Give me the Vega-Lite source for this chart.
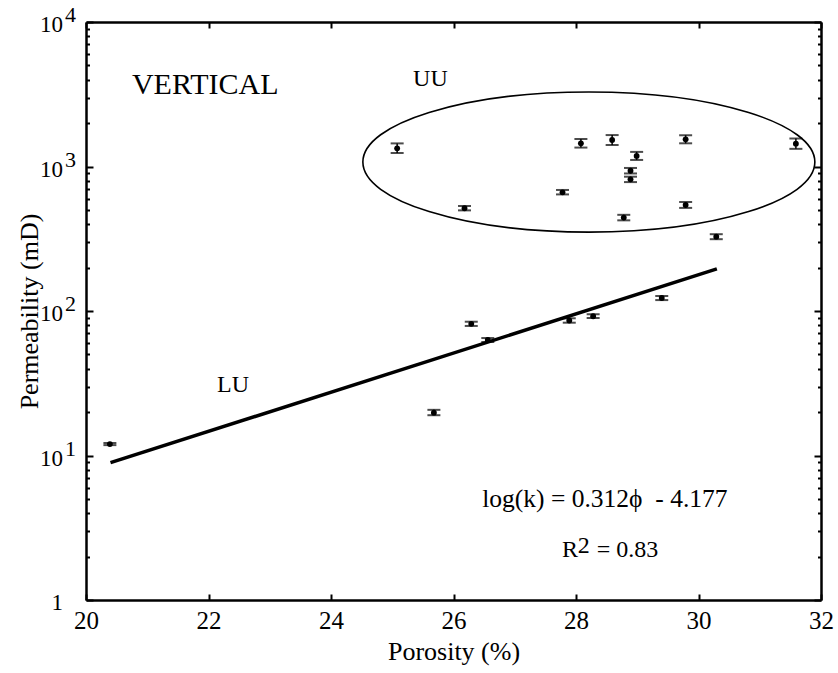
{
  "$schema": "https://vega.github.io/schema/vega-lite/v6.json",
  "width": 735,
  "height": 578,
  "autosize": "none",
  "padding": {"left": 86, "top": 22, "right": 17, "bottom": 73},
  "background": "white",
  "config": {
    "view": {"stroke": null},
    "font": "Liberation Serif",
    "axis": {
      "domainColor": "#000",
      "domainWidth": 2.5,
      "tickColor": "#000",
      "tickWidth": 2,
      "grid": false,
      "labelColor": "#000",
      "labelFont": "Liberation Serif",
      "titleFont": "Liberation Serif",
      "titleFontWeight": "normal",
      "titleColor": "#000",
      "labelFlush": false,
      "labelOverlap": false
    },
    "text": {"font": "Liberation Serif", "color": "#000"}
  },
  "resolve": {"axis": {"x": "independent", "y": "independent"}},
  "datasets": {
    "samples": [
      {"group": "UU", "phi": 25.08, "k": 1336, "lo": 1240, "hi": 1445},
      {"group": "UU", "phi": 26.18, "k": 514, "lo": 497, "hi": 533},
      {"group": "UU", "phi": 27.78, "k": 663, "lo": 641, "hi": 688},
      {"group": "UU", "phi": 28.08, "k": 1446, "lo": 1352, "hi": 1550},
      {"group": "UU", "phi": 28.59, "k": 1525, "lo": 1408, "hi": 1650},
      {"group": "UU", "phi": 28.78, "k": 443, "lo": 424, "hi": 463},
      {"group": "UU", "phi": 28.89, "k": 935, "lo": 895, "hi": 977},
      {"group": "UU", "phi": 28.89, "k": 815, "lo": 780, "hi": 850},
      {"group": "UU", "phi": 28.99, "k": 1183, "lo": 1110, "hi": 1262},
      {"group": "UU", "phi": 29.79, "k": 1542, "lo": 1447, "hi": 1645},
      {"group": "UU", "phi": 29.79, "k": 542, "lo": 517, "hi": 568},
      {"group": "UU", "phi": 31.59, "k": 1439, "lo": 1325, "hi": 1562},
      {"group": "LU", "phi": 20.39, "k": 12.0, "lo": 11.8, "hi": 12.2},
      {"group": "LU", "phi": 25.68, "k": 19.8, "lo": 19.0, "hi": 20.7},
      {"group": "LU", "phi": 26.29, "k": 81.5, "lo": 78.8, "hi": 84.3},
      {"group": "LU", "phi": 26.56, "k": 63, "lo": 61, "hi": 65},
      {"group": "LU", "phi": 27.89, "k": 86, "lo": 83, "hi": 89},
      {"group": "LU", "phi": 28.28, "k": 92, "lo": 89.3, "hi": 95},
      {"group": "LU", "phi": 29.40, "k": 123, "lo": 119, "hi": 127},
      {"group": "LU", "phi": 30.29, "k": 327, "lo": 314, "hi": 340}
    ],
    "fit": [
      {"phi": 20.4, "k": 8.915},
      {"phi": 30.3, "k": 195.7}
    ],
    "cluster": [
      {"name": "UU", "phi": 28.21, "k": 1074}
    ],
    "ylabels": [
      {"k": 1, "base": "1", "exp": ""},
      {"k": 10, "base": "10", "exp": "1"},
      {"k": 100, "base": "10", "exp": "2"},
      {"k": 1000, "base": "10", "exp": "3"},
      {"k": 10000, "base": "10", "exp": "4"}
    ],
    "notes": [
      {"kind": "heading", "phi": 20.75, "k": 3175, "text": "VERTICAL"},
      {"kind": "note", "phi": 25.34, "k": 3606, "text": "UU"},
      {"kind": "note", "phi": 22.14, "k": 27.5, "text": "LU"},
      {"kind": "equation", "phi": 26.47, "k": 4.40, "text": "log(k) = 0.312ϕ\u00a0\u00a0- 4.177"},
      {"kind": "note", "phi": 27.77, "k": 1.985, "text": "R"},
      {"kind": "note", "phi": 28.03, "k": 2.115, "text": "2"},
      {"kind": "note", "phi": 28.34, "k": 1.985, "text": "= 0.83"}
    ]
  },
  "layer": [
    {
      "data": {"name": "samples"},
      "mark": {"type": "rule", "color": "#000", "strokeWidth": 1.5},
      "encoding": {
        "x": {
          "field": "phi", "type": "quantitative",
          "scale": {"domain": [20, 32], "nice": false, "zero": false},
          "axis": {
            "orient": "bottom",
            "values": [20, 22, 24, 26, 28, 30, 32],
            "format": "d",
            "tickSize": -6,
            "labelFont": "Liberation Serif",
            "labelFontSize": 25,
            "labelPadding": 14,
            "title": "Porosity (%)",
            "titleFont": "Liberation Serif",
            "titleFontSize": 26,
            "titlePadding": 5
          }
        },
        "y": {
          "field": "lo", "type": "quantitative",
          "scale": {"type": "log", "domain": [1, 10000], "nice": false},
          "axis": {
            "orient": "left",
            "values": [1, 2, 3, 4, 5, 6, 7, 8, 9, 10, 20, 30, 40, 50, 60, 70, 80, 90, 100, 200, 300, 400, 500, 600, 700, 800, 900, 1000, 2000, 3000, 4000, 5000, 6000, 7000, 8000, 9000, 10000],
            "tickSize": {"condition": {"test": "indexof([1, 10, 100, 1000, 10000], datum.value) >= 0", "value": -7}, "value": -3.5},
            "labels": false,
            "title": "Permeability (mD)",
            "titleFont": "Liberation Serif",
            "titleFontSize": 26,
            "titleX": -44
          }
        },
        "y2": {"field": "hi"}
      }
    },
    {
      "data": {"name": "fit"},
      "mark": {"type": "line", "color": "#000", "strokeWidth": 3.5},
      "encoding": {
        "x": {
          "field": "phi", "type": "quantitative",
          "scale": {"domain": [20, 32], "nice": false, "zero": false},
          "axis": {
            "orient": "top",
            "values": [20, 22, 24, 26, 28, 30, 32],
            "tickSize": -6,
            "labels": false,
            "title": null
          }
        },
        "y": {
          "field": "k", "type": "quantitative",
          "scale": {"type": "log", "domain": [1, 10000], "nice": false},
          "axis": {
            "orient": "right",
            "values": [1, 2, 3, 4, 5, 6, 7, 8, 9, 10, 20, 30, 40, 50, 60, 70, 80, 90, 100, 200, 300, 400, 500, 600, 700, 800, 900, 1000, 2000, 3000, 4000, 5000, 6000, 7000, 8000, 9000, 10000],
            "tickSize": {"condition": {"test": "indexof([1, 10, 100, 1000, 10000], datum.value) >= 0", "value": -7}, "value": -3.5},
            "labels": false,
            "title": null
          }
        }
      }
    },
    {
      "data": {"name": "samples"},
      "mark": {"type": "tick", "orient": "horizontal", "color": "#000", "size": 13, "thickness": 2},
      "encoding": {
        "x": {"field": "phi", "type": "quantitative", "scale": {"domain": [20, 32], "nice": false, "zero": false}, "axis": null},
        "y": {"field": "lo", "type": "quantitative", "scale": {"type": "log", "domain": [1, 10000], "nice": false}, "axis": null}
      }
    },
    {
      "data": {"name": "samples"},
      "mark": {"type": "tick", "orient": "horizontal", "color": "#000", "size": 13, "thickness": 2},
      "encoding": {
        "x": {"field": "phi", "type": "quantitative", "scale": {"domain": [20, 32], "nice": false, "zero": false}, "axis": null},
        "y": {"field": "hi", "type": "quantitative", "scale": {"type": "log", "domain": [1, 10000], "nice": false}, "axis": null}
      }
    },
    {
      "data": {"name": "samples"},
      "mark": {"type": "point", "shape": "circle", "filled": true, "color": "#000", "size": 34, "opacity": 1},
      "encoding": {
        "x": {"field": "phi", "type": "quantitative", "scale": {"domain": [20, 32], "nice": false, "zero": false}, "axis": null},
        "y": {"field": "k", "type": "quantitative", "scale": {"type": "log", "domain": [1, 10000], "nice": false}, "axis": null}
      }
    },
    {
      "data": {"name": "cluster"},
      "mark": {
        "type": "point",
        "shape": "M -1 0 C -1 -0.171 -0.552 -0.31 0 -0.31 C 0.552 -0.31 1 -0.171 1 0 C 1 0.171 0.552 0.31 0 0.31 C -0.552 0.31 -1 0.171 -1 0 Z",
        "filled": false,
        "stroke": "#000",
        "strokeWidth": 1.6,
        "opacity": 1,
        "size": 204304
      },
      "encoding": {
        "x": {"field": "phi", "type": "quantitative", "scale": {"domain": [20, 32], "nice": false, "zero": false}, "axis": null},
        "y": {"field": "k", "type": "quantitative", "scale": {"type": "log", "domain": [1, 10000], "nice": false}, "axis": null}
      }
    },
    {
      "data": {"name": "ylabels"},
      "mark": {"type": "text", "font": "Liberation Serif", "align": "right", "baseline": "middle", "dx": -23, "dy": 3, "fontSize": 23},
      "encoding": {
        "x": {"datum": 20, "type": "quantitative", "scale": {"domain": [20, 32], "nice": false, "zero": false}, "axis": null},
        "y": {"field": "k", "type": "quantitative", "scale": {"type": "log", "domain": [1, 10000], "nice": false}, "axis": null},
        "text": {"field": "base"}
      }
    },
    {
      "data": {"name": "ylabels"},
      "mark": {"type": "text", "font": "Liberation Serif", "align": "left", "baseline": "middle", "dx": -21, "dy": -7, "fontSize": 22},
      "encoding": {
        "x": {"datum": 20, "type": "quantitative", "scale": {"domain": [20, 32], "nice": false, "zero": false}, "axis": null},
        "y": {"field": "k", "type": "quantitative", "scale": {"type": "log", "domain": [1, 10000], "nice": false}, "axis": null},
        "text": {"field": "exp"}
      }
    },
    {
      "data": {"name": "notes"},
      "transform": [{"filter": "datum.kind === 'note'"}],
      "mark": {"type": "text", "font": "Liberation Serif", "align": "left", "baseline": "alphabetic", "fontSize": 24},
      "encoding": {
        "x": {"field": "phi", "type": "quantitative", "scale": {"domain": [20, 32], "nice": false, "zero": false}, "axis": null},
        "y": {"field": "k", "type": "quantitative", "scale": {"type": "log", "domain": [1, 10000], "nice": false}, "axis": null},
        "text": {"field": "text"}
      }
    },
    {
      "data": {"name": "notes"},
      "transform": [{"filter": "datum.kind === 'equation'"}],
      "mark": {"type": "text", "font": "Liberation Serif", "align": "left", "baseline": "alphabetic", "fontSize": 25.5},
      "encoding": {
        "x": {"field": "phi", "type": "quantitative", "scale": {"domain": [20, 32], "nice": false, "zero": false}, "axis": null},
        "y": {"field": "k", "type": "quantitative", "scale": {"type": "log", "domain": [1, 10000], "nice": false}, "axis": null},
        "text": {"field": "text"}
      }
    },
    {
      "data": {"name": "notes"},
      "transform": [{"filter": "datum.kind === 'heading'"}],
      "mark": {"type": "text", "font": "Liberation Serif", "align": "left", "baseline": "alphabetic", "fontSize": 30},
      "encoding": {
        "x": {"field": "phi", "type": "quantitative", "scale": {"domain": [20, 32], "nice": false, "zero": false}, "axis": null},
        "y": {"field": "k", "type": "quantitative", "scale": {"type": "log", "domain": [1, 10000], "nice": false}, "axis": null},
        "text": {"field": "text"}
      }
    }
  ]
}
